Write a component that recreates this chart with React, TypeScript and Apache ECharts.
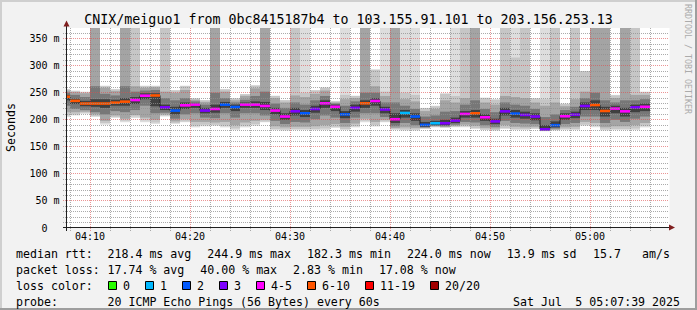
import React, { useEffect, useRef } from 'react';
import * as echarts from 'echarts';

const W = 697;
const H = 310;
const FONT = 'DejaVu Sans Mono';

const title = 'CNIX/meiguo1 from 0bc8415187b4 to 103.155.91.101 to 203.156.253.13';
const yAxisName = 'Seconds';
const watermark = 'RRDTOOL / TOBI OETIKER';

// time axis in seconds since midnight
const timeStart = 4 * 3600 + 7 * 60 + 39; // 04:07:39
const timeEnd = 5 * 3600 + 7 * 60 + 39; // 05:07:39
const firstBarStart = 4 * 3600 + 7 * 60; // 04:07:00
const stepSec = 60;

const xLabelTimes = ['04:10', '04:20', '04:30', '04:40', '04:50', '05:00'];
const yLabelValues = [0, 50, 100, 150, 200, 250, 300, 350];
const yMax = 369.6;

// median rtt (ms) per 1-minute step
const median = [
  242.6, 235, 230, 230, 230, 231.6, 233.5, 236.5, 244.5, 244.9,
  223, 217, 226.7, 228, 217, 220, 228, 223.6, 228, 228,
  225.5, 217, 206, 215.7, 212, 220, 230.4, 224, 210, 222,
  230.4, 234.7, 219, 201, 212.6, 206, 190.6, 193.6, 193.6, 198.5,
  210.8, 212, 204.6, 197, 215.6, 211.4, 209, 206, 182.3, 190,
  206.5, 209.5, 225.5, 227.3, 216.3, 220.6, 215.6, 223, 224.0,
];

// lost pings (of 20) per step
const lossCount = [
  7, 7, 7, 8, 7, 6, 7, 5, 4, 6,
  3, 2, 4, 5, 3, 4, 2, 2, 4, 5,
  4, 5, 4, 3, 2, 3, 4, 5, 2, 3,
  6, 4, 3, 5, 1, 2, 2, 1, 3, 3,
  4, 6, 5, 3, 3, 2, 3, 3, 3, 2,
  4, 3, 3, 6, 7, 4, 5, 3, 4,
];

// smoke bands: outermost (1) to innermost (5)
const smokeHi1 = [
  257, 254, 252, 370, 263, 257, 370, 370, 263, 263,
  370, 255, 263, 240, 236.6, 370, 257, 240, 247.6, 264,
  370, 244.5, 236.6, 370, 370, 255, 260, 235, 370, 244.5,
  370, 293.5, 370, 370, 370, 370, 222, 226, 249, 370,
  370, 370, 241, 238, 370, 370, 370, 240, 370, 370,
  230, 370, 290, 370, 370, 246, 370, 370, 252,
];
const smokeHi2 = [
  256, 253, 251, 370, 262, 256, 370, 370, 262, 262,
  370, 254, 262, 239, 236, 370, 256, 239, 247, 263,
  370, 244, 236, 370, 250, 254, 259, 234, 246, 244,
  370, 292, 252, 370, 250, 246, 221, 225, 248, 244,
  370, 370, 240, 237, 370, 315, 370, 239, 238, 370,
  229, 370, 290, 370, 370, 245, 370, 370, 251,
];
const smokeHi3 = [
  254, 251, 249, 370, 259, 253, 370, 262, 259, 260,
  252, 250, 255, 237, 233, 370, 252, 236, 244, 258,
  370, 240, 232, 245, 242, 248, 254, 232, 238, 240,
  370, 262, 244, 370, 238, 234, 216, 220, 236, 232,
  240, 370, 232, 228, 244, 242, 240, 232, 226, 232,
  225, 238, 252, 370, 370, 240, 370, 246, 246,
];
const smokeHi4 = [
  250, 246, 242, 262, 248, 245, 262, 252, 254, 255,
  240, 236, 240, 234, 228, 250, 240, 232, 237, 244,
  252, 230, 222, 232, 228, 236, 244, 230, 226, 234,
  250, 250, 232, 232, 226, 220, 206, 208, 215, 216,
  228, 236, 220, 214, 232, 228, 226, 220, 205, 210,
  218, 224, 240, 250, 236, 232, 236, 236, 238,
];
const smokeHi5 = [
  246, 239, 235, 238, 238, 237, 240, 242, 249, 249,
  228, 224, 232, 231, 222, 228, 233, 228, 232, 234,
  233, 222, 212, 222, 218, 226, 236, 228, 216, 228,
  236, 240, 224, 212, 218, 212, 196, 198, 200, 204,
  216, 218, 210, 202, 222, 218, 215, 212, 190, 197,
  212, 215, 232, 236, 224, 226, 222, 228, 230,
];
const smokeLo5 = [
  236, 229, 225, 224, 222, 226, 226, 229, 238, 225,
  218, 210, 220, 222, 212, 213, 222, 216, 222, 222,
  218, 210, 200, 208, 205, 213, 222, 216, 203, 215,
  222, 226, 212, 194, 204, 198, 187, 190, 190, 194,
  204, 204, 198, 192, 208, 204, 202, 199, 181, 186,
  200, 203, 218, 218, 206, 212, 206, 214, 216,
];
const smokeLo4 = [
  226, 220, 218, 214, 210, 216, 214, 218, 226, 212,
  213, 202, 210, 212, 204, 203, 212, 204, 212, 212,
  208, 198, 192, 196, 195, 201, 208, 204, 194, 204,
  212, 212, 205, 188, 194, 190, 186, 189, 188, 191,
  196, 195, 190, 187, 198, 194, 193, 192, 180.5, 184,
  192, 194, 206, 206, 194, 200, 196, 202, 206,
];
const smokeLo3 = [
  214, 214, 215, 210, 198, 208, 202, 209, 204, 200,
  210, 197, 201, 196, 196, 195, 196, 190, 195, 198,
  200, 188, 186, 187, 187, 188, 190, 192, 187, 193,
  202, 196, 200, 185, 186, 185, 185, 188, 187, 189,
  191, 189, 185, 184, 190, 187, 186, 187, 180, 182,
  186, 187, 196, 194, 186, 188, 188, 190, 194,
];
const smokeLo2 = [
  208, 210, 213, 207, 194, 205, 198, 206, 199, 195,
  208, 194, 197, 189, 191, 191, 189, 184, 189, 192,
  197, 183, 182, 183, 183, 183, 184, 187, 183, 188,
  198, 190, 197, 183, 182, 182, 184, 187, 186, 187,
  188, 185, 182, 181, 185, 183, 183, 184, 179.5, 181,
  183, 183, 191, 189, 182, 183, 183, 184, 189,
];
const smokeLo1 = [
  205, 208, 211, 205, 191, 203.5, 195.5, 203.5, 195.5, 192.4,
  206, 192.4, 195.5, 186, 188, 189, 186, 181.4, 186, 189,
  195.5, 181, 180, 181, 181, 181, 181, 185, 181, 186,
  195.5, 187.5, 195.5, 181, 180, 180, 183, 186, 185, 186,
  186, 183, 181, 180, 183, 181, 181, 183, 179, 180,
  181, 181, 189, 186, 180, 181, 181, 181, 186,
];

const smokeColors = ['#dddddd', '#c6c6c6', '#a4a4a4', '#777777', '#404040'];

const lossBuckets = [
  { label: '0', upTo: 0, color: '#26ff00' },
  { label: '1', upTo: 1, color: '#00b8ff' },
  { label: '2', upTo: 2, color: '#0059ff' },
  { label: '3', upTo: 3, color: '#7e00ff' },
  { label: '4-5', upTo: 5, color: '#ff00ff' },
  { label: '6-10', upTo: 10, color: '#ff5500' },
  { label: '11-19', upTo: 19, color: '#ff0000' },
  { label: '20/20', upTo: 20, color: '#a10000' },
];

const legendRtt = [
  { text: 'median rtt:', x: 16 },
  { text: '218.4 ms avg', x: 107.5 },
  { text: '244.9 ms max', x: 207.3 },
  { text: '182.3 ms min', x: 307.1 },
  { text: '224.0 ms now', x: 406.9 },
  { text: '13.9 ms sd', x: 506.7 },
  { text: '15.7', x: 593 },
  { text: 'am/s', x: 642 },
];
const legendLoss = [
  { text: 'packet loss:', x: 16 },
  { text: '17.74 % avg', x: 107.5 },
  { text: '40.00 % max', x: 200.3 },
  { text: '2.83 % min', x: 293.1 },
  { text: '17.08 % now', x: 378.9 },
];
const lossBoxX = [108, 145, 182, 219, 256, 307, 365, 430];
const probeText = '20 ICMP Echo Pings (56 Bytes) every 60s';
const dateLeft = 'Sat Jul';
const dateRight = '5 05:07:39 2025';

const GRID_MINOR = 'rgba(143,143,143,0.75)';
const GRID_MAJOR = 'rgba(222,79,79,0.6)';

function hhmmToSec(s: string) {
  const [h, m] = s.split(':').map(Number);
  return h * 3600 + m * 60;
}
function fmtTime(v: number) {
  const h = Math.floor(v / 3600);
  const m = Math.floor((v % 3600) / 60);
  return String(h).padStart(2, '0') + ':' + String(m).padStart(2, '0');
}
function lossColor(n: number) {
  for (const b of lossBuckets) if (n <= b.upTo) return b.color;
  return lossBuckets[lossBuckets.length - 1].color;
}

const xLabelValues = xLabelTimes.map(hhmmToSec);

function buildOption() {
  const barStart = (k: number) => firstBarStart + k * stepSec;
  const smokeData = median.map((_, k) => [
    barStart(k), barStart(k) + stepSec,
    smokeHi1[k], smokeLo1[k], smokeHi2[k], smokeLo2[k], smokeHi3[k], smokeLo3[k],
    smokeHi4[k], smokeLo4[k], smokeHi5[k], smokeLo5[k],
  ]);
  const medianBandData = median.map((m, k) => [barStart(k), barStart(k) + stepSec, m, lossCount[k]]);
  const medianLine = median.map((m, k) => [barStart(k), m]);
  medianLine.push([barStart(median.length), median[median.length - 1]]);

  // grid lines: [x, y, kind] kind 0 h-minor, 1 h-major, 2 v-minor, 3 v-major
  const gridData: number[][] = [];
  for (let v = 10; v < yMax; v += 10) gridData.push([timeStart, v, v % 50 === 0 ? 1 : 0]);
  for (let t = firstBarStart + 60; t < timeEnd; t += 120) gridData.push([t, 0, t % 600 === 0 ? 3 : 2]);

  const clampX = (x: number, cs: any) => Math.min(Math.max(x, cs.x), cs.x + cs.width);

  const graphics: any[] = [
    { type: 'rect', z: -20, shape: { x: 0, y: 0, width: W, height: H }, style: { fill: '#f2f2f2' } },
    { type: 'rect', z: -19, shape: { x: 0, y: 0, width: W, height: 2 }, style: { fill: '#cfcfcf' } },
    { type: 'rect', z: -19, shape: { x: 0, y: 0, width: 2, height: H }, style: { fill: '#cfcfcf' } },
    { type: 'rect', z: -19, shape: { x: 0, y: H - 2, width: W, height: 2 }, style: { fill: '#9e9e9e' } },
    { type: 'rect', z: -19, shape: { x: W - 2, y: 0, width: 2, height: H }, style: { fill: '#9e9e9e' } },
    { type: 'rect', z: -18, shape: { x: 67, y: 28, width: 602.5, height: 200 }, style: { fill: '#ffffff' } },
    {
      type: 'text', x: 348.5, y: 19.3,
      style: { text: title, fill: '#000', fontFamily: FONT, fontSize: 13.3, align: 'center', verticalAlign: 'middle' },
    },
    {
      type: 'text', x: 11, y: 127.5, rotation: Math.PI / 2,
      style: { text: yAxisName, fill: '#000', fontFamily: FONT, fontSize: 11.6, align: 'center', verticalAlign: 'middle' },
    },
    {
      type: 'text', x: 688, y: 59, rotation: -Math.PI / 2,
      style: { text: watermark, fill: '#ababab', fontFamily: FONT, fontSize: 8.3, align: 'center', verticalAlign: 'middle' },
    },
    // axes
    { type: 'line', z: 30, shape: { x1: 63, y1: 227.5, x2: 669.5, y2: 227.5 }, style: { stroke: '#1f1f1f', lineWidth: 1 } },
    { type: 'line', z: 30, shape: { x1: 66.5, y1: 231, x2: 66.5, y2: 26 }, style: { stroke: '#1f1f1f', lineWidth: 1 } },
    { type: 'polygon', z: 31, shape: { points: [[669, 224.5], [675, 227.5], [669, 230.5]] }, style: { fill: '#801f1f' } },
    { type: 'polygon', z: 31, shape: { points: [[63.5, 26.5], [66.5, 20.5], [69.5, 26.5]] }, style: { fill: '#801f1f' } },
  ];
  const legendText = (text: string, x: number, y: number, align = 'left') => ({
    type: 'text', x, y,
    style: { text, fill: '#000', fontFamily: FONT, fontSize: 11.6, align, verticalAlign: 'middle' },
  });
  legendRtt.forEach((it) => graphics.push(legendText(it.text, it.x, 254)));
  legendLoss.forEach((it) => graphics.push(legendText(it.text, it.x, 270)));
  graphics.push(legendText('loss color:', 16, 286));
  lossBuckets.forEach((b, i) => {
    graphics.push({
      type: 'rect', shape: { x: lossBoxX[i] + 0.5, y: 281.5, width: 8, height: 8 },
      style: { fill: b.color, stroke: '#000', lineWidth: 1 },
    });
    graphics.push(legendText(b.label, lossBoxX[i] + 15, 286));
  });
  graphics.push(legendText('probe:', 16, 302));
  graphics.push(legendText(probeText, 107.5, 302));
  graphics.push(legendText(dateLeft, 513, 302));
  graphics.push(legendText(dateRight, 680, 302, 'right'));

  return {
    animation: false,
    backgroundColor: 'transparent',
    grid: { left: 66.5, right: W - 666.5, top: 28, bottom: H - 228, containLabel: false },
    xAxis: {
      type: 'value', min: timeStart, max: timeEnd,
      axisLine: { show: false },
      splitLine: { show: false },
      axisTick: { show: false },
      axisLabel: {
        customValues: xLabelValues,
        formatter: (v: number) => fmtTime(v),
        fontFamily: FONT, fontSize: 10, color: '#000', margin: 3,
      },
    },
    yAxis: {
      type: 'value', min: 0, max: yMax,
      axisLine: { show: false },
      splitLine: { show: false },
      axisTick: { show: false },
      axisLabel: {
        customValues: yLabelValues,
        formatter: (v: number) => (v === 0 ? '{z|0}' : `${v} m`),
        rich: { z: { padding: [0, 12, 0, 0], fontFamily: FONT, fontSize: 10, color: '#000' } },
        fontFamily: FONT, fontSize: 10, color: '#000', margin: 7,
      },
    },
    graphic: { elements: graphics },
    series: [
      {
        type: 'custom', name: 'smoke', z: 2, clip: true, silent: true,
        data: smokeData,
        encode: { x: 0, y: 2 },
        renderItem: (params: any, api: any) => {
          const cs = params.coordSys;
          const s = api.value(0);
          const e = api.value(1);
          const x0 = clampX(api.coord([s, 0])[0], cs);
          const x1 = clampX(api.coord([e, 0])[0], cs);
          const children: any[] = [];
          for (let i = 0; i < 5; i++) {
            const hi = Math.min(api.value(2 + 2 * i), yMax);
            const lo = api.value(3 + 2 * i);
            const y0 = api.coord([s, hi])[1];
            const y1 = api.coord([s, lo])[1];
            children.push({
              type: 'rect',
              shape: { x: x0, y: y0, width: x1 - x0, height: y1 - y0 },
              style: { fill: smokeColors[i] },
            });
          }
          return { type: 'group', children };
        },
      },
      {
        type: 'line', name: 'median', z: 3, step: 'end', clip: true, silent: true,
        showSymbol: false, symbol: 'none',
        data: medianLine,
        lineStyle: { color: '#202020', width: 1 },
      },
      {
        type: 'custom', name: 'loss', z: 4, clip: true, silent: true,
        data: medianBandData,
        encode: { x: 0, y: 2 },
        renderItem: (params: any, api: any) => {
          const cs = params.coordSys;
          const s = api.value(0);
          const e = api.value(1);
          const x0 = clampX(api.coord([s, 0])[0], cs);
          const x1 = clampX(api.coord([e, 0])[0], cs);
          const ym = api.coord([s, api.value(2)])[1];
          return {
            type: 'rect',
            shape: { x: x0, y: ym - 1.3, width: x1 - x0, height: 2.6 },
            style: { fill: lossColor(api.value(3)) },
          };
        },
      },
      {
        type: 'custom', name: 'grid', z: 6, clip: false, silent: true,
        data: gridData,
        encode: { x: 0, y: 1 },
        renderItem: (params: any, api: any) => {
          const cs = params.coordSys;
          const kind = api.value(2);
          const major = kind === 1 || kind === 3;
          let shape;
          if (kind < 2) {
            const y = Math.floor(api.coord([api.value(0), api.value(1)])[1]) + 0.5;
            shape = { x1: Math.floor(cs.x) - 3, y1: y, x2: Math.floor(cs.x + cs.width) + 3, y2: y };
          } else {
            const x = Math.floor(api.coord([api.value(0), 0])[0]) + 0.5;
            shape = { x1: x, y1: Math.floor(cs.y), x2: x, y2: Math.floor(cs.y + cs.height) + 3 };
          }
          return {
            type: 'line', shape,
            style: { stroke: major ? GRID_MAJOR : GRID_MINOR, lineWidth: 1, lineDash: [1, 1] },
          };
        },
      },
    ],
  };
}

export default function App() {
  const ref = useRef<HTMLDivElement>(null);
  useEffect(() => {
    document.body.style.margin = '0';
    const chart = echarts.init(ref.current!, undefined, { renderer: 'svg' });
    chart.setOption(buildOption() as any);
    return () => chart.dispose();
  }, []);
  return <div ref={ref} style={{ width: W, height: H }} />;
}
